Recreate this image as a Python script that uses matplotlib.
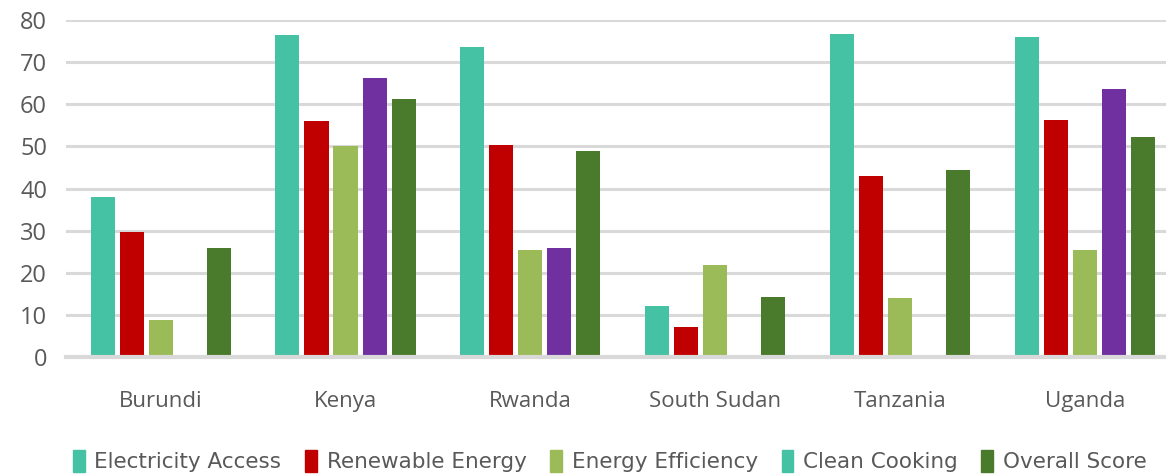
import numpy as np
import matplotlib.pyplot as plt
from matplotlib.patches import Patch

countries = ['Burundi', 'Kenya', 'Rwanda', 'South Sudan', 'Tanzania', 'Uganda']

electricity = [38.0, 76.5, 73.6, 12.1, 76.7, 76.0]
renewable = [29.6, 56.0, 50.4, 7.1, 43.0, 56.3]
efficiency = [8.8, 50.0, 25.5, 21.8, 14.0, 25.5]
cooking = [0, 66.3, 26.0, 0, 0, 63.7]
overall = [26.0, 61.3, 48.8, 14.3, 44.4, 52.3]

series = ['Electricity Access', 'Renewable Energy', 'Energy Efficiency',
          'Clean Cooking', 'Overall Score']
colors = ['#45C1A4', '#C00000', '#9BBB59', '#7030A0', '#4A7A2B']
legend_colors = ['#45C1A4', '#C00000', '#9BBB59', '#45C1A4', '#4A7A2B']

fig = plt.figure(figsize=(11.66, 4.75), dpi=100)
ax = fig.add_axes([0.057, 0.248, 0.943, 0.71])

x = np.arange(len(countries))
step = 0.157
width = 0.13
for i, vals in enumerate([electricity, renewable, efficiency, cooking, overall]):
    ax.bar(x + (i - 2) * step, vals, width, color=colors[i], zorder=3)

ax.set_ylim(0, 80)
ax.set_xlim(-0.51, 5.44)
ax.set_yticks(range(0, 81, 10))
ax.yaxis.grid(True, color='#d9d9d9', linewidth=2.2, zorder=0)
ax.set_axisbelow(True)
for s in ['top', 'right', 'left']:
    ax.spines[s].set_visible(False)
ax.spines['bottom'].set_color('#d9d9d9')
ax.spines['bottom'].set_linewidth(3)
ax.spines['bottom'].set_zorder(4)
ax.tick_params(axis='both', length=0)
ax.tick_params(axis='y', labelsize=17, labelcolor='#595959', pad=14)
ax.set_xticks(x)
ax.set_xticklabels(countries, fontsize=16, color='#595959', family='Open Sans')
ax.tick_params(axis='x', pad=24)
for lbl in ax.get_yticklabels():
    lbl.set_family('Open Sans')

handles = [Patch(color=c, label=s) for c, s in zip(legend_colors, series)]
fig.legend(handles=handles, loc='lower center', ncol=5, frameon=False,
           bbox_to_anchor=(0.523, -0.035), handlelength=0.55, handleheight=1.2,
           handletextpad=0.45, columnspacing=1.1,
           prop={'family': 'DejaVu Sans', 'size': 15.5},
           labelcolor='#595959')

fig.savefig('out.png', dpi=100)
